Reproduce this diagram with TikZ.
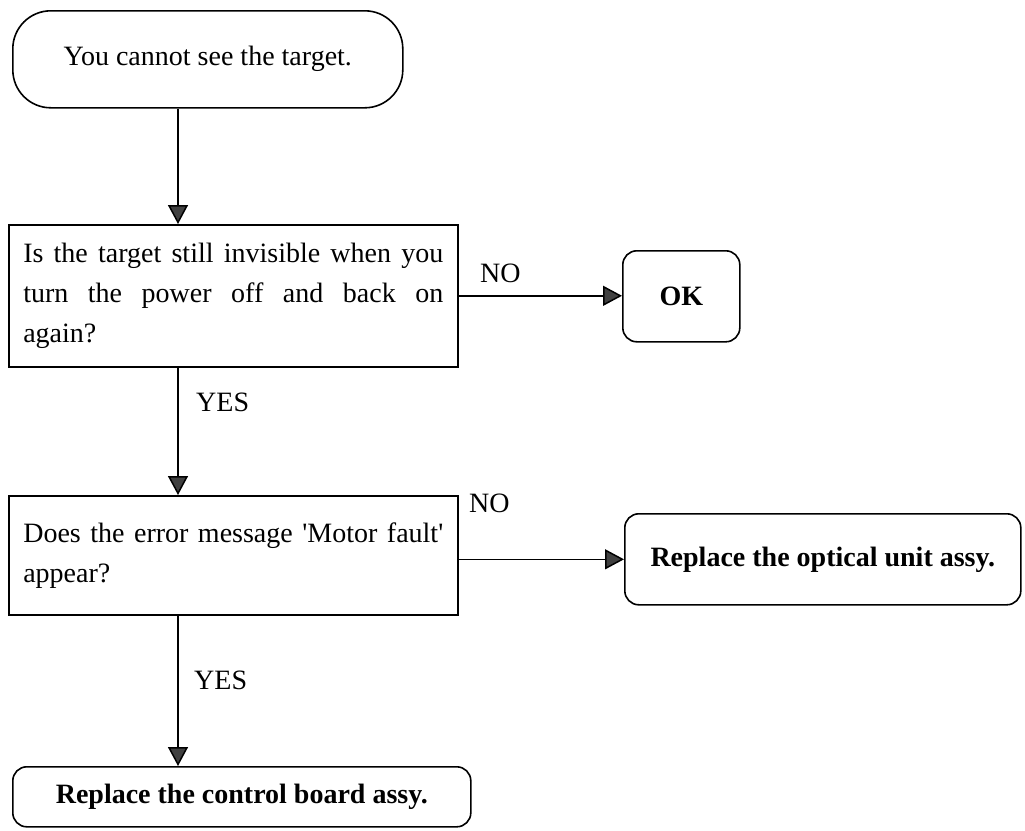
\documentclass[tikz,border=0pt]{standalone}
\usepackage{fontspec}
\setmainfont{Liberation Serif}
\usetikzlibrary{arrows.meta}
% a full-width justified line with stretchable word spaces
\newcommand\spreadline[1]{\makebox[420pt][s]{\spaceskip=.25em plus 1fil\relax #1}}
\begin{document}
\begin{tikzpicture}[x=1pt,y=-1pt,
  txt/.style={font=\fontsize{28}{40}\selectfont},
  boldtxt/.style={font=\fontsize{28}{40}\selectfont\bfseries},
  box/.style={draw, line width=1.6pt, inner sep=0pt, align=center, anchor=north west, txt},
  question/.style={box, align=left, text width=420pt, inner xsep=14.5pt},
  terminal/.style={box, rounded corners=14pt, boldtxt},
  lbl/.style={inner sep=0pt, anchor=west, txt},
  arr/.style={line width=1.5pt, -{Triangle[length=19pt,width=20pt,fill=black!75]}}]

\useasboundingbox (0,0) rectangle (1025,830);

% start of the check
\node[box, rounded corners=38pt, minimum width=390pt, minimum height=97pt]
  (start) at (12,10) {You cannot see the target.};

% questions
\node[question, minimum width=449pt, minimum height=142pt] (q1) at (8,224)
  {\spreadline{Is the target still invisible when you}\\
   \spreadline{turn the power off and back on}\\
   again?};
\node[question, minimum width=449pt, minimum height=119pt] (q2) at (8,495)
  {\spreadline{Does the error message {\textquotesingle}Motor fault{\textquotesingle}}\\
   appear?};

% outcomes
\node[terminal, minimum width=117pt, minimum height=91pt] (ok) at (622,250) {OK};
\node[terminal, minimum width=396pt, minimum height=91pt] (fix1) at (624,513)
  {Replace the optical unit assy.};
\node[terminal, minimum width=458pt, minimum height=60pt] (fix2) at (12,766)
  {Replace the control board assy.};

% connectors
\coordinate (spine) at (178,0);
\draw[arr] (start.south -| spine) -- (q1.north -| spine);
\draw[arr] (q1.south -| spine) -- (q2.north -| spine);
\draw[arr] (q2.south -| spine) -- (fix2.north -| spine);
\draw[arr] (q1.east) -- (q1.east -| ok.west);
\draw[arr] (q2.east |- fix1.west) -- (fix1.west);

% branch labels
\node[lbl] (no1) at (480,273) {NO};
\node[lbl] (no2) at (469,503) {NO};
\node[lbl] (yes1) at (196,402) {YES};
\node[lbl] (yes2) at (194,680) {YES};
\end{tikzpicture}
\end{document}
